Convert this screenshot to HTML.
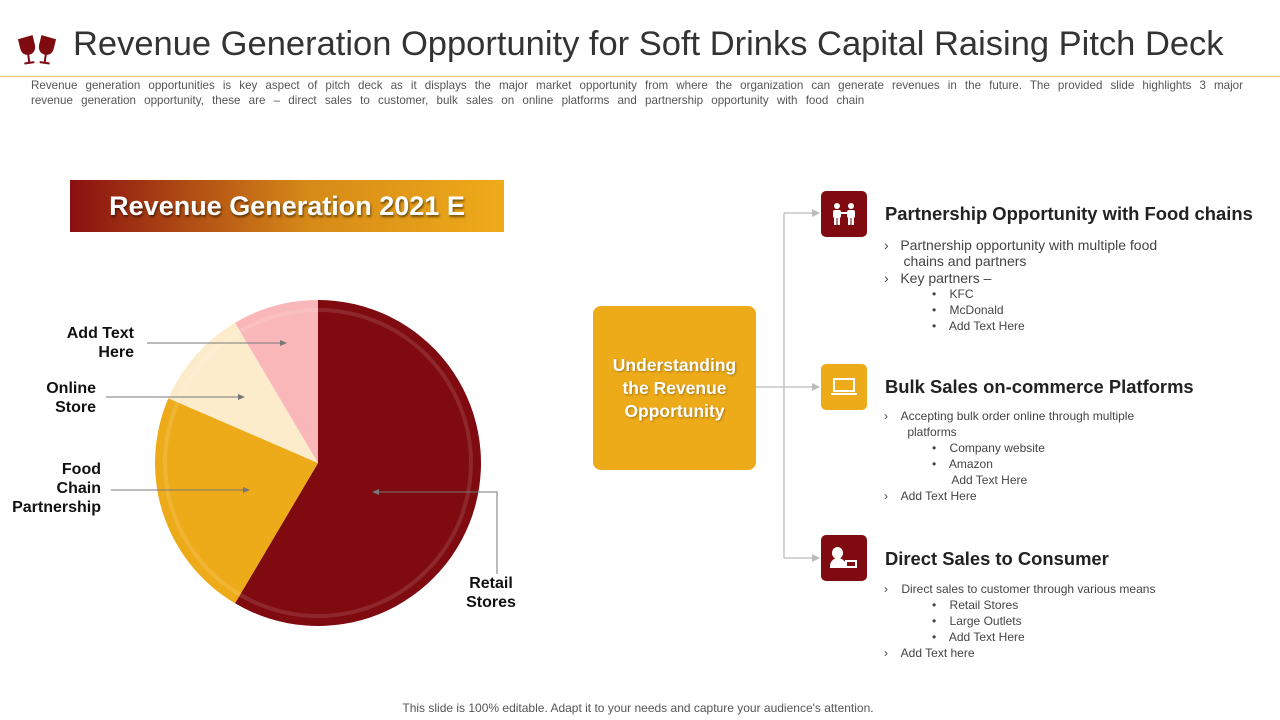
<!DOCTYPE html>
<html><head><meta charset="utf-8"><style>
body{margin:0;width:1280px;height:720px;background:#fff;font-family:"Liberation Sans",sans-serif;position:relative;overflow:hidden}
.a{position:absolute}
.h{font-weight:bold;font-size:18.4px;color:#222}
.t{font-size:14px;color:#444;line-height:16px}
</style></head><body>
<svg class="a" style="left:16px;top:34px" width="44" height="34" viewBox="0 0 44 34">
<g fill="#7f0a0f"><path d="M3 4 L18 2 L19 12 Q19 20 12 21 Q5 21 4 14Z" transform="rotate(-8 11 12)"/><rect x="10" y="20" width="2" height="9" transform="rotate(-8 11 12)"/><rect x="6" y="28" width="10" height="2" transform="rotate(-8 11 12)"/>
<path d="M24 2 L39 4 L38 14 Q37 21 30 21 Q23 20 23 12Z" transform="rotate(8 31 12)"/><rect x="30" y="20" width="2" height="9" transform="rotate(8 31 12)"/><rect x="26" y="28" width="10" height="2" transform="rotate(8 31 12)"/></g></svg>
<div class="a" style="left:73px;top:25px;font-size:34.5px;color:#333">Revenue Generation Opportunity for Soft Drinks Capital Raising Pitch Deck</div>
<div class="a" style="left:0;top:76px;width:1280px;height:1px;background:#e3c76a"></div>
<div class="a" style="left:31px;top:78px;width:1212px;font-size:11.6px;line-height:15px;color:#555">
<div style="text-align:justify;text-align-last:justify">Revenue generation opportunities is key aspect of pitch deck as it displays the major market opportunity from where the organization can generate revenues in the future. The provided slide highlights 3 major</div>
<div style="word-spacing:5px">revenue generation opportunity, these are – direct sales to customer, bulk sales on online platforms and partnership opportunity with food chain</div></div>
<div class="a" style="left:70px;top:180px;width:434px;height:52px;background:linear-gradient(90deg,#8a1010,#d68a18 55%,#eeab19);color:#fff;font-weight:bold;font-size:27px;line-height:52px;text-align:center;text-shadow:1px 2px 2px rgba(0,0,0,.5)">Revenue Generation 2021 E</div>
<svg class="a" id="pie" style="left:0;top:0" width="600" height="720"></svg>
<div class="a" style="left:593px;top:306px;width:163px;height:164px;padding:0 12px;box-sizing:border-box;background:#eeab19;border-radius:8px;color:#fff;font-weight:bold;font-size:17.5px;line-height:23px;display:flex;align-items:center;justify-content:center;text-align:center;text-shadow:1px 1px 2px rgba(0,0,0,.3)">Understanding the Revenue Opportunity</div>
<svg class="a" style="left:0;top:0" width="1280" height="720">
<g stroke="#bbb" stroke-width="1.3" fill="none"><path d="M756 387H815M784 213V558M784 213H812M784 558H812"/></g>
<g fill="#bbb"><path d="M820 213l-8-4v8z"/><path d="M820 387l-8-4v8z"/><path d="M820 558l-8-4v8z"/></g></svg>
<div class="a" style="left:821px;top:191px;width:46px;height:46px;background:#7f0a0f;border-radius:5px">
<svg width="46" height="46"><g fill="#fff"><circle cx="16" cy="15" r="3"/><circle cx="30" cy="15" r="3"/><rect x="12" y="19" width="8" height="8" rx="2"/><rect x="26" y="19" width="8" height="8" rx="2"/><rect x="13" y="26" width="2.5" height="8"/><rect x="16.5" y="26" width="2.5" height="8"/><rect x="27" y="26" width="2.5" height="8"/><rect x="30.5" y="26" width="2.5" height="8"/><rect x="19" y="21" width="8" height="2"/></g></svg></div>
<div class="a" style="left:821px;top:364px;width:46px;height:46px;background:#eeab19;border-radius:5px"><div style="position:absolute;left:12px;top:14px;width:22px;height:14px;border:2px solid #fff;box-sizing:border-box"></div><div style="position:absolute;left:10px;top:29px;width:26px;height:2px;background:#fff"></div></div>
<div class="a" style="left:821px;top:535px;width:46px;height:46px;background:#7f0a0f;border-radius:5px"><div style="position:absolute;left:11px;top:12px;width:11px;height:12px;border-radius:50%;background:#fff"></div><div style="position:absolute;left:9px;top:23px;width:16px;height:10px;border-radius:8px 8px 0 0;background:#fff"></div><div style="position:absolute;left:24px;top:25px;width:12px;height:8px;border:2px solid #fff;box-sizing:border-box"></div></div>
<div class="a h" style="left:885px;top:203px">Partnership Opportunity with Food chains</div>
<div class="a t" style="left:884px;top:237px;width:330px">
<div>›&nbsp;&nbsp; Partnership opportunity with multiple food<br>&nbsp;&nbsp;&nbsp;&nbsp;&nbsp;chains and partners</div><div style="margin-top:1px">›&nbsp;&nbsp; Key partners –</div>
<div style="font-size:12px;line-height:16px;padding-left:48px">•&nbsp;&nbsp;&nbsp; KFC<br>•&nbsp;&nbsp;&nbsp; McDonald<br>•&nbsp;&nbsp;&nbsp; Add Text Here</div></div>
<div class="a h" style="left:885px;top:376px">Bulk Sales on-commerce Platforms</div>
<div class="a t" style="left:884px;top:408px;width:320px;font-size:12px;line-height:16px">
<div>›&nbsp;&nbsp;&nbsp; Accepting bulk order online through multiple<br>&nbsp;&nbsp;&nbsp;&nbsp;&nbsp;&nbsp;&nbsp;platforms</div>
<div style="padding-left:48px">•&nbsp;&nbsp;&nbsp; Company website<br>•&nbsp;&nbsp;&nbsp; Amazon<br>&nbsp;&nbsp;&nbsp;&nbsp;&nbsp; Add Text Here</div><div>›&nbsp;&nbsp;&nbsp; Add Text Here</div></div>
<div class="a h" style="left:885px;top:548px">Direct Sales to Consumer</div>
<div class="a t" style="left:884px;top:581px;width:330px;font-size:12px;line-height:16px">
<div>›&nbsp;&nbsp;&nbsp; Direct sales to customer through various means</div>
<div style="padding-left:48px">•&nbsp;&nbsp;&nbsp; Retail Stores<br>•&nbsp;&nbsp;&nbsp; Large Outlets<br>•&nbsp;&nbsp;&nbsp; Add Text Here</div><div>›&nbsp;&nbsp;&nbsp; Add Text here</div></div>
<div class="a" style="left:0;width:1276px;top:701px;font-size:12px;color:#555;text-align:center">This slide is 100% editable. Adapt it to your needs and capture your audience's attention.</div>
<script>
const categories=["Retail Stores","Food Chain Partnership","Online Store","Add Text Here"];
const values=[58.5,23,10,8.5];
const colors=["#7f0a0f","#eeab19","#fdeccc","#f9b7b9"];
const svg=document.getElementById('pie');const NS="http://www.w3.org/2000/svg";
const cx=318,cy=463,r=163;
const total=values.reduce((a,b)=>a+b,0);
function pt(a,rr){return [cx+rr*Math.sin(a),cy-rr*Math.cos(a)];}
let a0=0;
values.forEach((v,i)=>{const a1=a0+v/total*2*Math.PI;const p0=pt(a0,r),p1=pt(a1,r);
const p=document.createElementNS(NS,'path');
p.setAttribute('d',`M${cx} ${cy}L${p0[0]} ${p0[1]}A${r} ${r} 0 ${a1-a0>Math.PI?1:0} 1 ${p1[0]} ${p1[1]}Z`);
p.setAttribute('fill',colors[i]);


svg.appendChild(p);a0=a1;});
const ring=document.createElementNS(NS,'circle');
ring.setAttribute('cx',cx);ring.setAttribute('cy',cy);ring.setAttribute('r',r-10);ring.setAttribute('fill','none');ring.setAttribute('stroke','rgba(255,255,255,0.12)');ring.setAttribute('stroke-width','4');


svg.appendChild(ring);
const labels=[{t:["Retail","Stores"],x:491,y:588,anchor:"middle",line:"M497 574V492H378",ax:372,ay:492},
{t:["Food","Chain","Partnership"],x:101,y:474,anchor:"end",line:"M111 490H244",ax:250,ay:490},
{t:["Online","Store"],x:96,y:393,anchor:"end",line:"M106 397H239",ax:245,ay:397},
{t:["Add Text","Here"],x:134,y:338,anchor:"end",line:"M147 343H281",ax:287,ay:343}];
labels.forEach((l,i)=>{const tx=document.createElementNS(NS,'text');
tx.setAttribute('text-anchor',l.anchor);tx.setAttribute('font-size','16');tx.setAttribute('font-weight','bold');tx.setAttribute('fill','#111');tx.setAttribute('font-family','Liberation Sans, sans-serif');


l.t.forEach((s,j)=>{const ts=document.createElementNS(NS,'tspan');ts.setAttribute('x',l.x);ts.setAttribute('y',l.y+j*19);ts.textContent=s;tx.appendChild(ts);});
svg.appendChild(tx);
const ln=document.createElementNS(NS,'path');ln.setAttribute('d',l.line);ln.setAttribute('stroke','#777');ln.setAttribute('fill','none');


svg.appendChild(ln);
const ah=document.createElementNS(NS,'path');const s=l.ax<l.x?1:-1;
ah.setAttribute('d',`M${l.ax} ${l.ay}l${s*7} -3v6z`);ah.setAttribute('fill','#777');


svg.appendChild(ah);});
</script>
</body></html>
